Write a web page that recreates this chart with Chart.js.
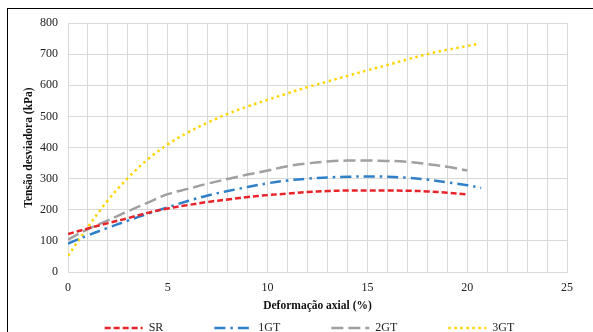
<!DOCTYPE html>
<html>
<head>
<meta charset="utf-8">
<script src="https://cdn.jsdelivr.net/npm/chart.js@4/dist/chart.umd.min.js"></script>
<style>
  html, body { margin: 0; padding: 0; background: #fff; overflow: hidden; width: 593px; height: 332px; }
  #frame { position: absolute; left: 7px; top: 8px; width: 700px; height: 400px; border-left: 1.5px solid #000; border-top: 1.5px solid #000; }
  #wrap { position: absolute; left: 0; top: 0; width: 593px; height: 345px; }
</style>
</head>
<body>
<div id="frame"></div>
<div id="wrap"><canvas id="c" width="593" height="345"></canvas></div>
<script>
// ---- data ----
const strainSR  = [0, 1, 2, 3, 4, 5, 6, 7, 8, 9, 10, 11, 12, 13, 14, 15, 16, 17, 18, 19, 20];
const valuesSR  = [122, 140, 157, 173, 190, 204, 215, 225, 233, 241, 247, 252, 257, 260, 262, 262, 262, 261, 259, 255, 249];

const strain1GT = [0, 1, 2, 3, 4, 5, 6, 7, 8, 9, 10, 11, 12, 13, 14, 15, 16, 17, 18, 19, 20, 20.7];
const values1GT = [91, 118, 142, 165, 187, 208, 228, 246, 260, 273, 285, 294, 300, 304, 306, 307, 306, 303, 297, 288, 279, 270];

const strain2GT = [0, 1, 2, 3, 4, 5, 6, 7, 8, 9, 10, 11, 12, 13, 14, 15, 16, 17, 18, 19, 20];
const values2GT = [104, 138, 166, 195, 223, 250, 267, 284, 299, 313, 326, 340, 349, 355, 358, 358, 357, 354, 347, 338, 326];

const strain3GT = [0, 1, 2, 3, 4, 5, 6, 7, 8, 9, 10, 11, 12, 13, 14, 15, 16, 17, 18, 19, 20, 20.5];
const values3GT = [52, 145, 230, 302, 362, 410, 448, 480, 508, 532, 553, 574, 594, 612, 630, 648, 665, 683, 700, 714, 726, 732];

const seriesNames = ['SR', '1GT', '2GT', '3GT'];
const xTickLabels = [0, 5, 10, 15, 20, 25];
const yTickLabels = [0, 100, 200, 300, 400, 500, 600, 700, 800];

function pts(xs, ys) { return xs.map((x, i) => ({ x: x, y: ys[i] })); }

const serif = "'Liberation Serif', 'Times New Roman', serif";

const legendShift = {
  id: 'legendShift',
  afterLayout(chart) {
    const lg = chart.legend;
    if (!lg) return;
    lg.left += 26; lg.right += 26;
    lg.top = 322 - lg.options.labels.padding;
  }
};

const defaultLabels = Chart.defaults.plugins.legend.labels.generateLabels;

new Chart(document.getElementById('c'), {
  type: 'line',
  data: {
    datasets: [
      { label: seriesNames[0], data: pts(strainSR, valuesSR), borderColor: '#E8232A', backgroundColor: '#E8232A',
        borderWidth: 2.5, borderDash: [6, 3] },
      { label: seriesNames[1], data: pts(strain1GT, values1GT), borderColor: '#2F80C8', backgroundColor: '#2F80C8',
        borderWidth: 2.5, borderDash: [11, 5, 2.5, 5] },
      { label: seriesNames[2], data: pts(strain2GT, values2GT), borderColor: '#A0A0A0', backgroundColor: '#A0A0A0',
        borderWidth: 2.5, borderDash: [12, 5] },
      { label: seriesNames[3], data: pts(strain3GT, values3GT), borderColor: '#FFD500', backgroundColor: '#FFD500',
        borderWidth: 2.5, borderDash: [2.5, 3.5] }
    ]
  },
  options: {
    responsive: false,
    animation: false,
    elements: { point: { radius: 0, hoverRadius: 0 }, line: { tension: 0.4, fill: false } },
    layout: { padding: { left: 0, right: 26, top: 23, bottom: 0 } },
    plugins: {
      tooltip: { enabled: false },
      legend: {
        position: 'bottom',
        maxHeight: 20,
        labels: {
          usePointStyle: true, pointStyle: 'line', pointStyleWidth: 38,
          padding: 51, color: '#222',
          font: { family: serif, size: 12 },
          generateLabels(chart) {
            const items = defaultLabels(chart);
            items.forEach((it) => {
              const ds = chart.data.datasets[it.datasetIndex];
              it.lineDash = ds.borderDash;
              it.strokeStyle = ds.borderColor;
              it.lineWidth = ds.borderWidth;
            });
            return items;
          }
        }
      }
    },
    scales: {
      x: {
        type: 'linear', min: 0, max: 25,
        afterFit(s) { s.height = 53; },
        afterBuildTicks(s) { s.ticks = Array.from({ length: 26 }, (_, i) => ({ value: i })); },
        grid: { color: '#d9d9d9', lineWidth: 1, drawTicks: false },
        border: { color: '#d9d9d9' },
        ticks: {
          autoSkip: false, maxRotation: 0, padding: 9, color: '#222',
          font: { family: serif, size: 12 },
          callback: (v) => xTickLabels.includes(v) ? String(v) : ''
        },
        title: { display: true, text: 'Deformação axial (%)', color: '#111',
          font: { family: serif, size: 11.5, weight: 'bold' }, padding: { top: 0, bottom: 12 } }
      },
      y: {
        min: 0, max: 800,
        afterFit(s) { s.width = 68; },
        afterBuildTicks(s) { s.ticks = yTickLabels.map(v => ({ value: v })); },
        grid: { color: '#d9d9d9', lineWidth: 1, drawTicks: false },
        border: { color: '#d9d9d9' },
        ticks: { padding: 10, color: '#222', font: { family: serif, size: 12 } },
        title: { display: true, text: 'Tensão desviadora (kPa)', color: '#111',
          font: { family: serif, size: 11.5, weight: 'bold' }, padding: { top: 22, bottom: 0 } }
      }
    }
  },
  plugins: [legendShift]
});
</script>
</body>
</html>
